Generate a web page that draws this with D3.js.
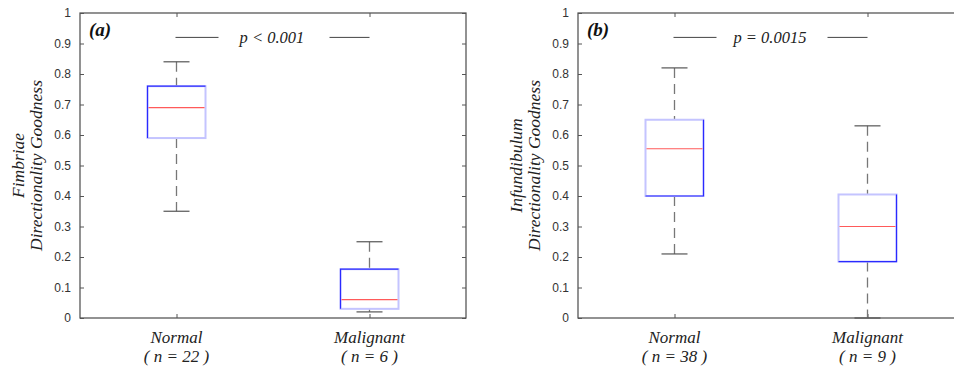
<!DOCTYPE html>
<html>
<head>
<meta charset="utf-8">
<script src="https://cdn.jsdelivr.net/npm/d3@7"></script>
<style>
  html, body { margin: 0; padding: 0; background: #fff; }
  svg { display: block; }
</style>
</head>
<body>
<div id="chart"></div>
<script>
// ---- data ----
const categories = ["Normal", "Malignant"];
const panelTags = ["(a)", "(b)"];
const pTexts = ["p < 0.001", "p = 0.0015"];
const sampleSizes = [[22, 6], [38, 9]];
const yTitles = [
  ["Fimbriae", "Directionality Goodness"],
  ["Infundibulum", "Directionality Goodness"]
];
const yTicks = [0, 0.1, 0.2, 0.3, 0.4, 0.5, 0.6, 0.7, 0.8, 0.9, 1];
const pBarLevel = [0.92, 0.92];

// whisker low, q1, median, q3, whisker high
const fimbriaeStats = [
  { lo: 0.35, q1: 0.59, med: 0.69, q3: 0.76, hi: 0.84 },
  { lo: 0.02, q1: 0.03, med: 0.06, q3: 0.16, hi: 0.25 }
];
const infundibulumStats = [
  { lo: 0.21, q1: 0.40, med: 0.555, q3: 0.65, hi: 0.82 },
  { lo: 0.0, q1: 0.185, med: 0.30, q3: 0.405, hi: 0.63 }
];
const panelStats = [fimbriaeStats, infundibulumStats];

// ---- layout ----
const W = 954, H = 369;
const config = {
  plotW: 386,
  top: 13,
  bottom: 318,
  lefts: [80, 578],
  boxW: 58,
  capW: 26,
  serif: "'Liberation Serif', 'Times New Roman', serif",
  sans: "'Liberation Sans', Arial, sans-serif"
};

const svg = d3.select("#chart").append("svg")
  .attr("width", W)
  .attr("height", H);

const y = d3.scaleLinear().domain([0, 1]).range([config.bottom, config.top]);

panelStats.forEach((stats, i) => {
  const left = config.lefts[i];
  const g = svg.append("g").attr("transform", `translate(${left},0)`);
  const x = d3.scalePoint().domain(categories).range([0, config.plotW]).padding(0.5);

  // frame
  g.append("rect")
    .attr("x", 0).attr("y", config.top)
    .attr("width", config.plotW).attr("height", config.bottom - config.top)
    .attr("fill", "none").attr("stroke", "#4a4a4a").attr("stroke-width", 1.2);

  // y axis (ticks inward) + mirrored right ticks
  const yAxis = g.append("g")
    .call(d3.axisLeft(y).tickValues(yTicks).tickSize(-4).tickPadding(9)
      .tickFormat(d3.format("~g")));
  yAxis.select(".domain").remove();
  yAxis.selectAll("line").attr("stroke", "#555");
  yAxis.selectAll("text")
    .attr("fill", "#333")
    .style("font-family", config.sans)
    .style("font-size", "12px");

  const yRight = g.append("g").attr("transform", `translate(${config.plotW},0)`)
    .call(d3.axisRight(y).tickValues(yTicks).tickSize(-4).tickFormat(""));
  yRight.select(".domain").remove();
  yRight.selectAll("line").attr("stroke", "#555");

  // category ticks top and bottom
  const xb = g.append("g").attr("transform", `translate(0,${config.bottom})`)
    .call(d3.axisBottom(x).tickSize(-4).tickFormat(""));
  xb.select(".domain").remove();
  xb.selectAll("line").attr("stroke", "#555");
  const xt = g.append("g").attr("transform", `translate(0,${config.top})`)
    .call(d3.axisTop(x).tickSize(-4).tickFormat(""));
  xt.select(".domain").remove();
  xt.selectAll("line").attr("stroke", "#555");

  // category labels
  categories.forEach((c, k) => {
    const t = g.append("text")
      .attr("x", x(c))
      .attr("text-anchor", "middle")
      .style("font-family", config.serif)
      .style("font-style", "italic")
      .style("font-size", "17px")
      .attr("fill", "#222");
    t.append("tspan").attr("x", x(c)).attr("y", 343).text(c);
    t.append("tspan").attr("x", x(c)).attr("y", 362).text(`( n = ${sampleSizes[i][k]} )`);
  });

  // boxes
  const boxes = g.selectAll(".box").data(stats).enter().append("g").attr("class", "box");
  const cx = (d, k) => x(categories[k]);

  // dashed whiskers
  boxes.append("line")
    .attr("x1", cx).attr("x2", cx)
    .attr("y1", d => y(d.hi)).attr("y2", d => y(d.q3))
    .attr("stroke", "#777").attr("stroke-width", 1.3).attr("stroke-dasharray", "10,6");
  boxes.append("line")
    .attr("x1", cx).attr("x2", cx)
    .attr("y1", d => y(d.q1)).attr("y2", d => y(d.lo))
    .attr("stroke", "#777").attr("stroke-width", 1.3).attr("stroke-dasharray", "10,6");

  // caps
  ["hi", "lo"].forEach(key => {
    boxes.append("line")
      .attr("x1", (d, k) => cx(d, k) - config.capW / 2)
      .attr("x2", (d, k) => cx(d, k) + config.capW / 2)
      .attr("y1", d => y(d[key])).attr("y2", d => y(d[key]))
      .attr("stroke", "#555").attr("stroke-width", 1.2);
  });

  // box body
  boxes.append("rect")
    .attr("x", (d, k) => cx(d, k) - config.boxW / 2)
    .attr("y", d => y(d.q3))
    .attr("width", config.boxW)
    .attr("height", d => y(d.q1) - y(d.q3))
    .attr("fill", "none")
    .attr("stroke", "#c4c4ff").attr("stroke-width", 2);

  // darker edge (left/top on panel a, right on panel b)
  boxes.append("path")
    .attr("d", (d, k) => {
      const x0 = cx(d, k) - config.boxW / 2, x1 = cx(d, k) + config.boxW / 2;
      return i === 0
        ? `M${x0},${y(d.q1)}V${y(d.q3)}H${x1}`
        : `M${x0},${y(d.q1)}H${x1}V${y(d.q3)}`;
    })
    .attr("fill", "none").attr("stroke", "#2a2aff").attr("stroke-width", 1.2);

  // median
  boxes.append("line")
    .attr("x1", (d, k) => cx(d, k) - config.boxW / 2 + 1)
    .attr("x2", (d, k) => cx(d, k) + config.boxW / 2 - 1)
    .attr("y1", d => y(d.med)).attr("y2", d => y(d.med))
    .attr("stroke", "#ff5a5a").attr("stroke-width", 1.2);

  // significance bar
  const xN = x(categories[0]), xM = x(categories[1]);
  const py = y(pBarLevel[i]);
  g.append("line").attr("x1", xN - 1).attr("x2", xN + 42).attr("y1", py).attr("y2", py)
    .attr("stroke", "#444").attr("stroke-width", 1);
  g.append("line").attr("x1", xM - 40).attr("x2", xM).attr("y1", py).attr("y2", py)
    .attr("stroke", "#444").attr("stroke-width", 1);
  g.append("text")
    .attr("x", (xN + xM) / 2 - 1).attr("y", py + 6)
    .attr("text-anchor", "middle")
    .style("font-family", config.serif)
    .style("font-style", "italic")
    .style("font-size", "16.5px")
    .attr("fill", "#222")
    .text(pTexts[i]);

  // panel tag
  g.append("text")
    .attr("x", 9).attr("y", 36)
    .style("font-family", config.serif)
    .style("font-style", "italic")
    .style("font-weight", "bold")
    .style("font-size", "19px")
    .attr("fill", "#111")
    .text(panelTags[i]);

  // y title (two lines)
  const midY = (config.top + config.bottom) / 2;
  yTitles[i].forEach((line, j) => {
    g.append("text")
      .attr("transform", `translate(${j === 0 ? -56 : -38},${midY}) rotate(-90)`)
      .attr("text-anchor", "middle")
      .style("font-family", config.serif)
      .style("font-style", "italic")
      .style("font-size", "17.5px")
      .attr("fill", "#222")
      .text(line);
  });
});
</script>
</body>
</html>
